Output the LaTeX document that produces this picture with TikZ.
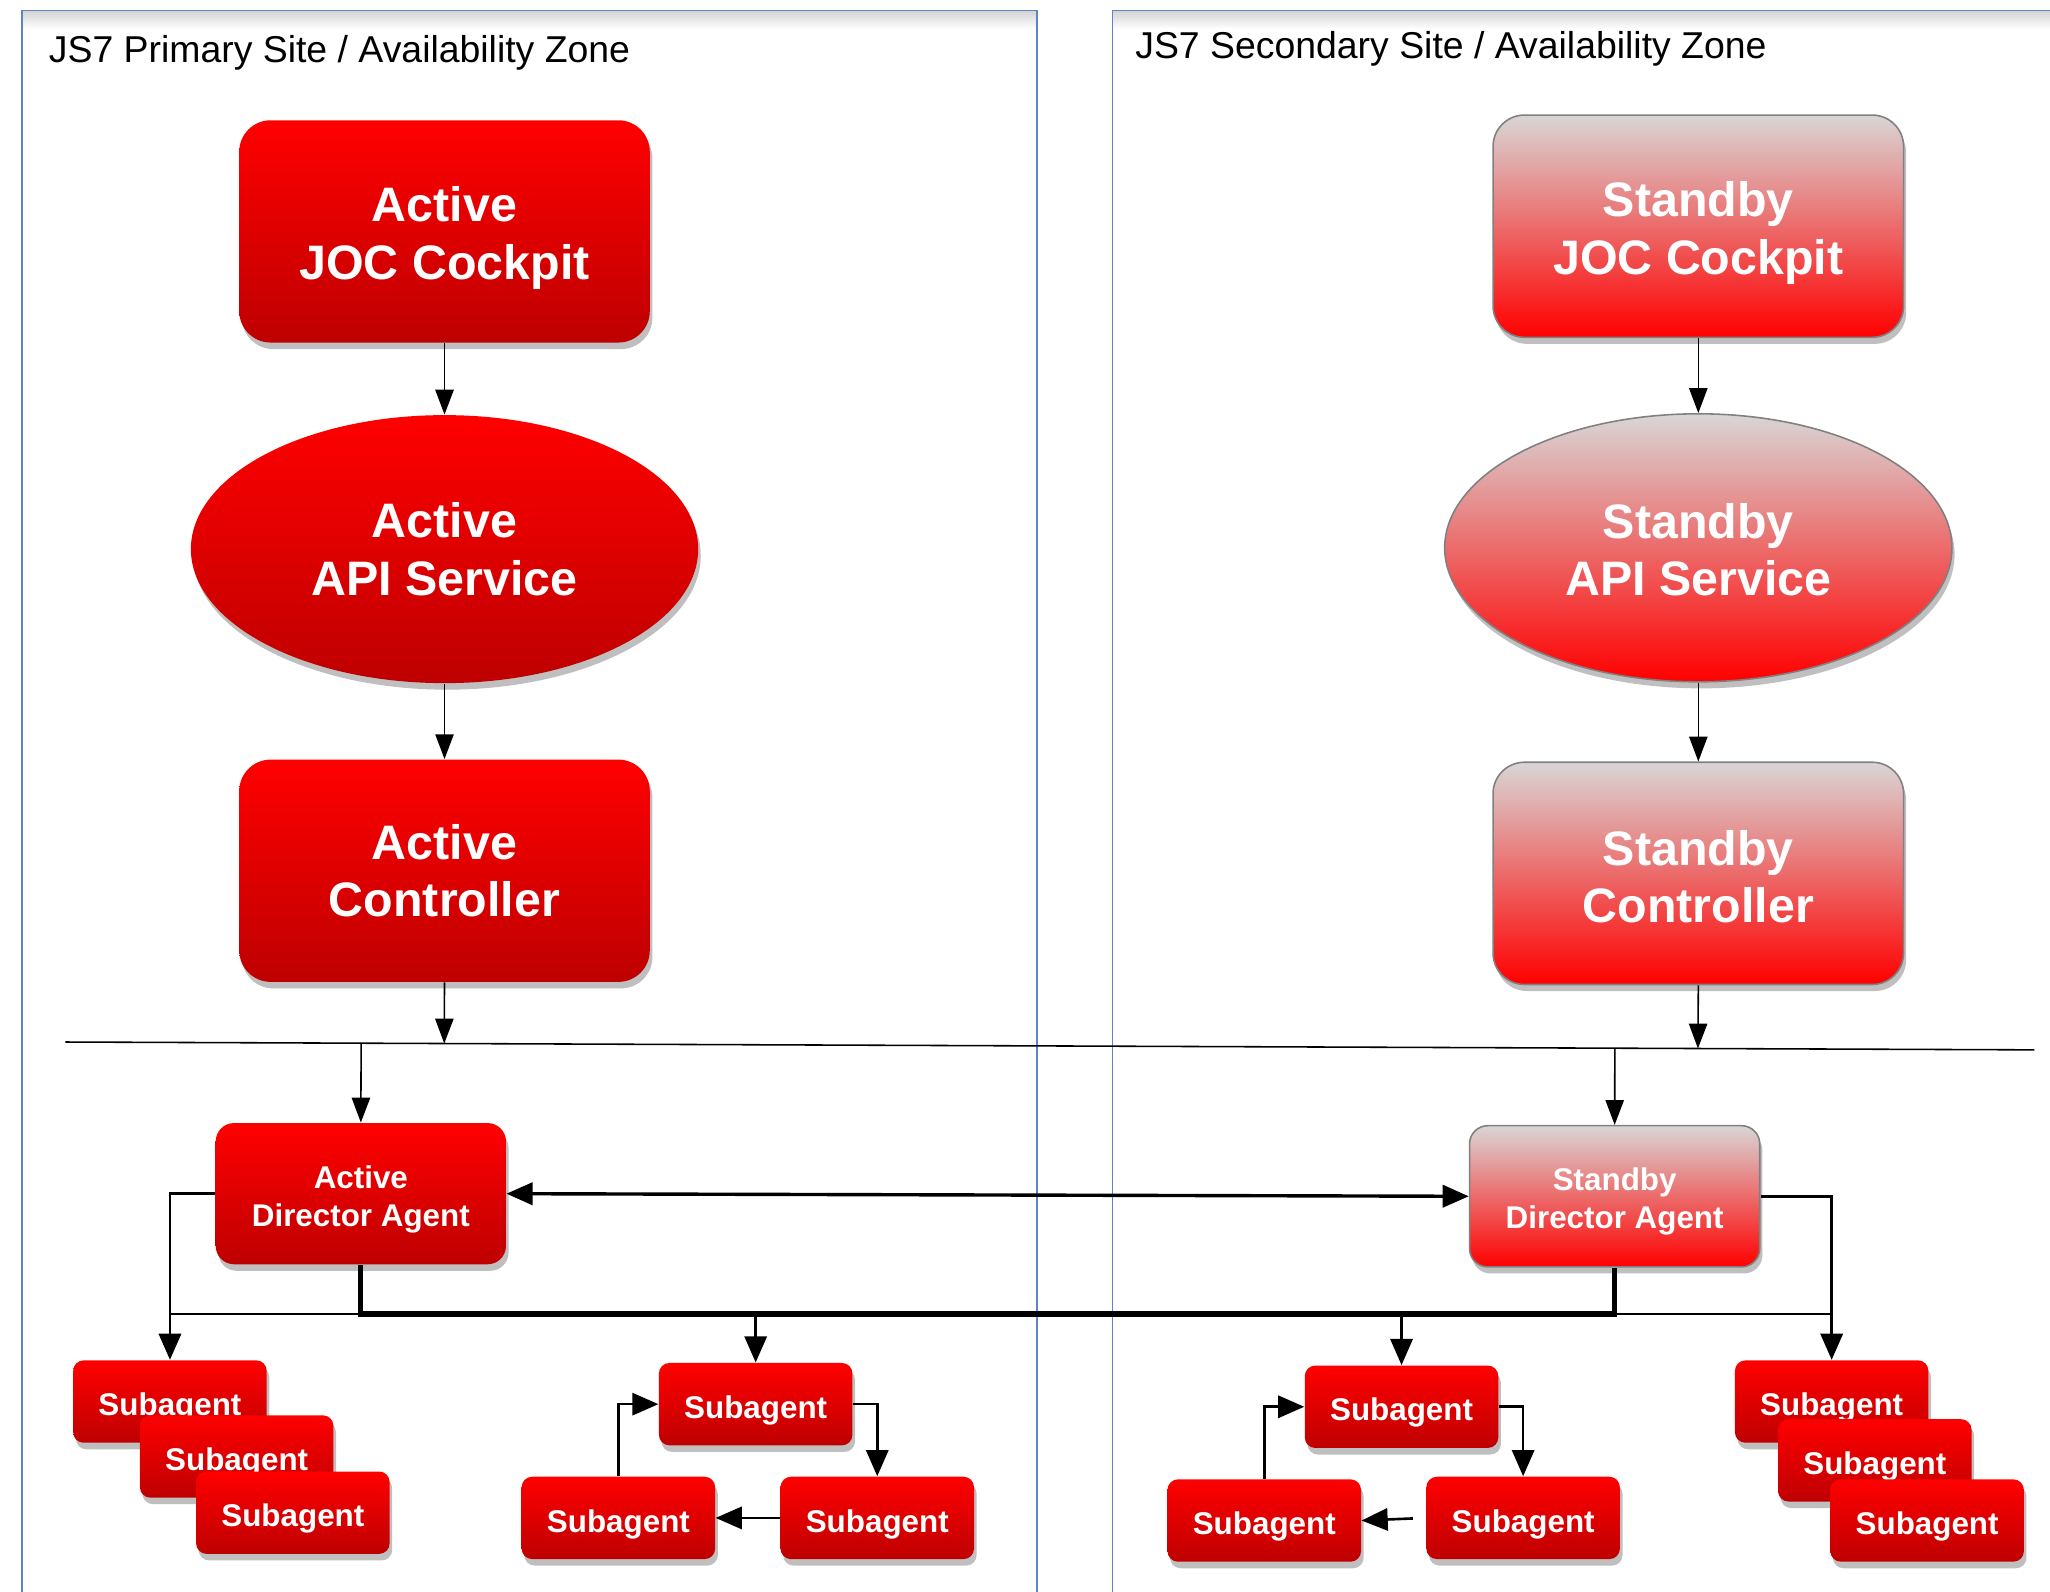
\documentclass[tikz,border=0pt]{standalone}
\usepackage{fontspec}
\setmainfont{Liberation Sans}
\usetikzlibrary{arrows.meta,calc,positioning,shapes.geometric,shadows}

\definecolor{jsred}{RGB}{255,0,0}
\definecolor{jsdark}{RGB}{190,0,0}
\definecolor{jsgrey}{RGB}{217,214,214}
\definecolor{zoneblue}{RGB}{95,130,200}

% extra room above the first line, pushes the text down a little
\newcommand{\padtop}[1]{\rule{0pt}{#1}}

\begin{document}
\begin{tikzpicture}[
    x=0.5pt, y=-0.5pt,
    softshadow/.style={drop shadow={shadow xshift=1pt, shadow yshift=-2.5pt, opacity=0.25, fill=black}},
    active/.style={top color=jsred, bottom color=jsdark, draw=none, text=white, softshadow},
    standby/.style={top color=jsgrey, bottom color=jsred, draw=gray, line width=0.6pt, text=white, softshadow},
    bigbox/.style={rounded corners=12pt, minimum width=157pt, minimum height=85pt, align=center, font=\bfseries\fontsize{18.5}{22}\selectfont},
    bigoval/.style={ellipse, minimum width=194pt, minimum height=102.5pt, align=center, font=\bfseries\fontsize{18.5}{22}\selectfont},
    dirbox/.style={rounded corners=7pt, minimum width=111pt, minimum height=54pt, align=center, font=\bfseries\fontsize{12}{14.5}\selectfont},
    subbox/.style={active, rounded corners=4pt, minimum width=74pt, minimum height=31.5pt, text height=13.4pt, font=\bfseries\fontsize{12}{14}\selectfont},
    zone/.style={draw=zoneblue, line width=0.6pt},
    title/.style={anchor=base west, inner sep=0pt, font=\fontsize{14.3}{17}\selectfont},
    arr/.style={-{Triangle[length=9.5pt, width=7pt]}, line width=0.6pt},
    link/.style={-{Triangle[length=10pt, width=8.5pt]}, line width=1pt},
    both/.style={{Triangle[length=10pt, width=8.5pt]}-{Triangle[length=10pt, width=8.5pt]}, line width=1.3pt},
  ]
    \clip (0,0) rectangle (1568,1217);

    % availability zones
    \shade[top color=gray!35, bottom color=white] (17,8) rectangle (793,22);
    \shade[top color=gray!35, bottom color=white] (851,8) rectangle (1600,22);
    \draw[zone] (17,1240) -- (17,8) -- (793,8) -- (793,1240);
    \draw[zone] (851,1240) -- (851,8) -- (1600,8);
    \node[title] (ptitle) at (37,48) {JS7 Primary Site / Availability Zone};
    \node[title] (stitle) at (868,45) {JS7 Secondary Site / Availability Zone};

    % primary site
    \node[active, bigbox] (actjoc) at (340,177) {\padtop{18.5pt}Active\\JOC Cockpit};
    \node[active, bigoval] (actapi) at (340,420) {Active\\API Service};
    \node[active, bigbox] (actctl) at (340,666) {Active\\Controller};

    % secondary site
    \node[standby, bigbox] (sbyjoc) at (1299,173) {\padtop{18.5pt}Standby\\JOC Cockpit};
    \node[standby, bigoval] (sbyapi) at (1299,419) {\padtop{15pt}Standby\\API Service};
    \node[standby, bigbox] (sbyctl) at (1299,668) {\padtop{16pt}Standby\\Controller};

    % controller to agent line
    \coordinate (busL) at (50,797);
    \coordinate (busR) at (1556,803);
    \draw[line width=0.6pt] (busL) -- (busR);

    \node[active, dirbox] (actda) at (276,913) {\padtop{12.8pt}Active\\Director Agent};
    \node[standby, dirbox] (sbyda) at (1235,915) {\padtop{12.8pt}Standby\\Director Agent};

    % subagent stacks
    \node[subbox] (lsa1) at (130,1072) {Subagent};
    \node[subbox] (lsa2) at (181,1114) {Subagent};
    \node[subbox] (lsa3) at (224,1157) {Subagent};
    \node[subbox] (rsa1) at (1401,1072) {Subagent};
    \node[subbox] (rsa2) at (1434,1117) {Subagent};
    \node[subbox] (rsa3) at (1474,1163) {Subagent};

    % subagent rings
    \node[subbox] (mtop) at (578,1074) {Subagent};
    \node[subbox] (mbl) at (473,1161) {Subagent};
    \node[subbox] (mbr) at (671,1161) {Subagent};
    \node[subbox] (rtop) at (1072,1076) {Subagent};
    \node[subbox] (rbl) at (967,1163) {Subagent};
    \node[subbox] (rbr) at (1165,1161) {Subagent};

    \draw[arr] (actjoc.south) -- (actapi.north);
    \draw[arr] (actapi.south) -- (actctl.north);
    \draw[arr] (actctl.south) -- ($(busL)!(actctl.south)!(busR)$);
    \draw[arr] (sbyjoc.south) -- (sbyapi.north);
    \draw[arr] (sbyapi.south) -- (sbyctl.north);
    \draw[arr] (sbyctl.south) -- ($(busL)!(sbyctl.south)!(busR)$);
    \draw[arr] ($(busL)!(actda.north)!(busR)$) -- (actda.north);
    \draw[arr] ($(busL)!(sbyda.north)!(busR)$) -- (sbyda.north);

    \draw[both] (actda.east) -- (sbyda.west);

    \coordinate (trunk) at (0,1005);
    \draw[line width=2pt] (actda.south) -- (actda.south |- trunk) -- (sbyda.south |- trunk) -- (sbyda.south);
    \draw[line width=1pt] (lsa1.north |- trunk) -- (actda.south |- trunk);
    \draw[line width=1pt] (sbyda.south |- trunk) -- (rsa1.north |- trunk);
    \draw[link] (actda.west) -| (lsa1.north);
    \draw[link] (sbyda.east) -| (rsa1.north);
    \draw[link] (mtop.north |- trunk) -- (mtop.north);
    \draw[link] (rtop.north |- trunk) -- (rtop.north);

    \draw[link] (mtop.east) -| (mbr.north);
    \draw[link] (mbr.west) -- (mbl.east);
    \draw[link] (mbl.north) |- (mtop.west);
    \draw[link] (rtop.east) -| (rbr.north);
    \draw[link, shorten <=5pt] (rbr.west) -- (rbl.east);
    \draw[link] (rbl.north) |- (rtop.west);
  \end{tikzpicture}
\end{document}
